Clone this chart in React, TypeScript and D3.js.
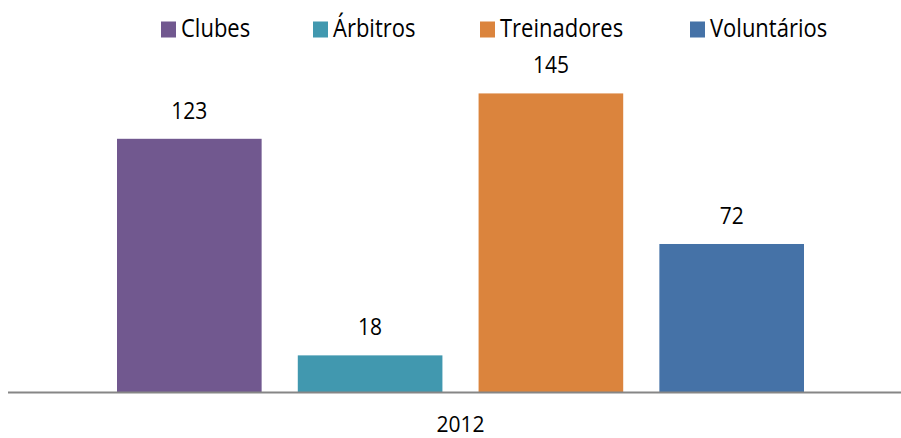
import React from 'react';
import * as d3 from 'd3';

const categories = ['2012'];
const seriesNames = ['Clubes', 'Árbitros', 'Treinadores', 'Voluntários'];
const seriesValues = [123, 18, 145, 72];
const seriesColors = ['#71588F', '#4198AF', '#DB843D', '#4572A7'];

const W = 901, H = 438;
const FONT = '"Open Sans", "Liberation Sans", sans-serif';

const App = () => {
    // plot area (svg pinned to the page corner so coordinates match the picture)
    const baseline = 392.5;
    const x0 = d3.scaleBand().domain(categories).range([8, 913]);
    const x1 = d3.scaleBand().domain(seriesNames).range([117, 804]).paddingInner(0.2);
    const y = d3.scaleLinear().domain([0, 160]).range([baseline, baseline - 160 * 2.0626]);

    // legend entries: square left edge for each item
    const legendX = [161, 313, 480, 690];

    const stretched = (x, yy, txt, anchor, key, size = 21) => (
        <text key={key} transform={`translate(${x},${yy}) scale(1,1.12)`} textAnchor={anchor}
            fontFamily={FONT} fontSize={size} fill="#000">{txt}</text>
    );

    return (
        <svg width={W} height={H} style={{ display: 'block', position: 'absolute', left: 0, top: 0 }}>
            <rect width={W} height={H} fill="#fff" />
            {seriesNames.map((s, i) => (
                <rect key={s} x={x1(s)} y={y(seriesValues[i])} width={x1.bandwidth()}
                    height={y(0) - y(seriesValues[i])} fill={seriesColors[i]} />
            ))}
            <line x1={8} x2={901} y1={baseline} y2={baseline} stroke="#868686" strokeWidth={2} />
            {seriesNames.map((s, i) =>
                stretched(x1(s) + x1.bandwidth() / 2, y(seriesValues[i]) - 20, String(seriesValues[i]), 'middle', 'v' + s)
            )}
            {/* category label sits at the bottom edge, so no vertical stretch here */}
            {categories.map(c => (
                <text key={'c' + c} x={x0(c) + x0.bandwidth() / 2} y={432} textAnchor="middle"
                    fontFamily={FONT} fontSize={21} fill="#000">{c}</text>
            ))}
            {seriesNames.map((s, i) => (
                <g key={'l' + s}>
                    <rect x={legendX[i]} y={21.5} width={15} height={16} fill={seriesColors[i]} />
                    {stretched(legendX[i] + 20, 37, s, 'start', 'lt' + s, 22)}
                </g>
            ))}
        </svg>
    );
};

export default App;
